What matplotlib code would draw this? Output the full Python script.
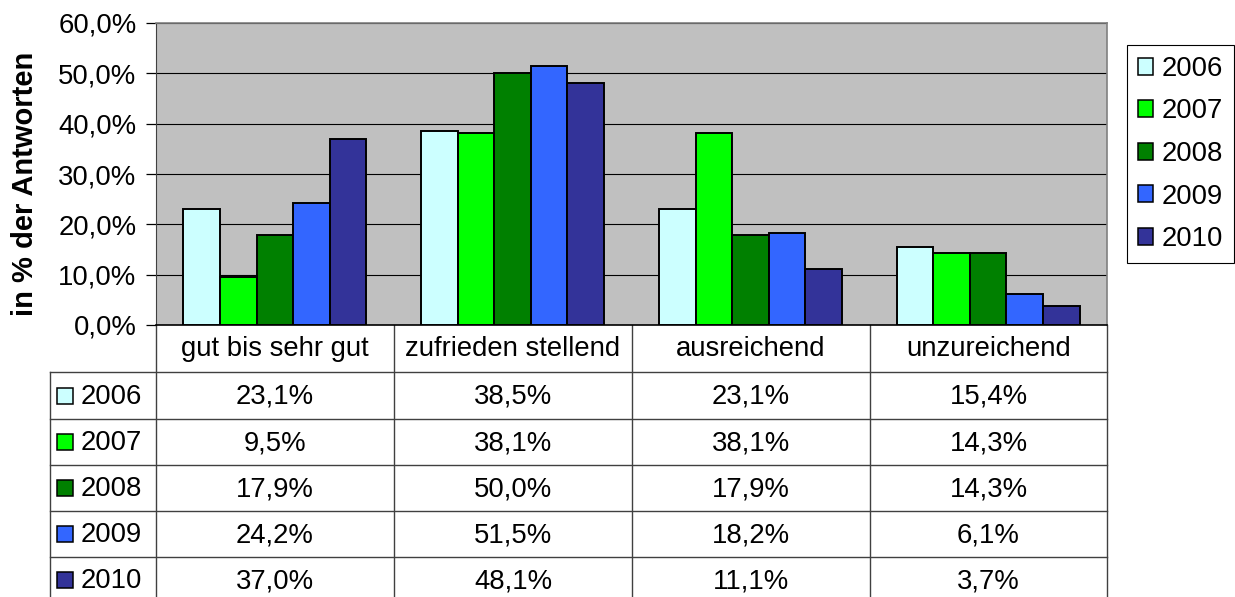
import matplotlib
matplotlib.use("Agg")
import matplotlib.pyplot as plt
from matplotlib.patches import Patch, Rectangle
import numpy as np

plt.rcParams['font.family'] = ['Liberation Sans', 'DejaVu Sans']

# daten
kategorien = ["gut bis sehr gut", "zufrieden stellend", "ausreichend", "unzureichend"]
jahre = ["2006", "2007", "2008", "2009", "2010"]
werte_2006 = [23.1, 38.5, 23.1, 15.4]
werte_2007 = [9.5, 38.1, 38.1, 14.3]
werte_2008 = [17.9, 50.0, 17.9, 14.3]
werte_2009 = [24.2, 51.5, 18.2, 6.1]
werte_2010 = [37.0, 48.1, 11.1, 3.7]
farben = ["#CCFFFF", "#00FF00", "#008000", "#3366FF", "#333399"]
y_ticks = [0, 10, 20, 30, 40, 50, 60]

serien = [werte_2006, werte_2007, werte_2008, werte_2009, werte_2010]

W, H = 1235, 597
def fx(px):
    return px / W
def fy(py):
    return 1 - py / H

fs = 19.8

fig = plt.figure(figsize=(W / 100, H / 100), dpi=100)

# diagrammflaeche
ax = fig.add_axes([fx(156), fy(325), fx(1107) - fx(156), fy(23) - fy(325)])
ax.set_facecolor("#C0C0C0")

n = len(serien)
breite = 1 / (n + 1.5)
x = np.arange(len(kategorien))
for i, (werte, farbe) in enumerate(zip(serien, farben)):
    ax.bar(x + (i - (n - 1) / 2) * breite, werte, width=breite, color=farbe,
           edgecolor="black", linewidth=1.4, zorder=3)

ax.set_xlim(-0.5, len(kategorien) - 0.5)
ax.set_ylim(0, 60)
ax.set_yticks(y_ticks)
ax.set_yticklabels([f"{t:.1f}".replace(".", ",") + "%" for t in y_ticks], fontsize=fs)
ax.set_xticks([])
ax.tick_params(axis="y", length=7, width=0.9, pad=7)
ax.grid(axis="y", color="black", linewidth=0.8, zorder=1)
ax.set_axisbelow(True)
for s in ["top", "right"]:
    ax.spines[s].set_color("#808080")
    ax.spines[s].set_linewidth(1.2)
ax.spines["left"].set_color("#404040")
ax.spines["bottom"].set_color("black")
ax.spines["bottom"].set_linewidth(1.2)

fig.text(fx(25), fy(184), "in % der Antworten", rotation=90, ha="center", va="center",
         fontsize=21, fontweight="bold")

# datentabelle
ov = fig.add_axes([0, 0, 1, 1], zorder=-1)
ov.set_xlim(0, W)
ov.set_ylim(H, 0)
ov.axis("off")

spalten = [156, 394, 632, 870, 1107]
zeilen = [372, 419, 465, 511, 557, 603]
lc = "#404040"
for sx in spalten:
    ov.plot([sx, sx], [325, 603], color=lc, lw=1.0)
ov.plot([50, 50], [372, 603], color=lc, lw=1.0)
for zy in zeilen:
    ov.plot([50, 1107], [zy, zy], color=lc, lw=1.0)

for j, kat in enumerate(kategorien):
    ov.text((spalten[j] + spalten[j + 1]) / 2, 349, kat, ha="center", va="center", fontsize=fs)

for i, (jahr, werte, farbe) in enumerate(zip(jahre, serien, farben)):
    ym = (zeilen[i] + zeilen[i + 1]) / 2
    ov.add_patch(Rectangle((57, ym - 8), 16, 16, facecolor=farbe, edgecolor="black", lw=1.1))
    ov.text(81, ym + 1, jahr, ha="left", va="center", fontsize=fs)
    for j, v in enumerate(werte):
        ov.text((spalten[j] + spalten[j + 1]) / 2, ym + 1, f"{v:.1f}".replace(".", ",") + "%",
                ha="center", va="center", fontsize=fs)

# legende
handles = [Patch(facecolor=c, edgecolor="black", linewidth=1.1) for c in farben]
leg = fig.legend(handles, jahre, loc="upper left", bbox_to_anchor=(fx(1127), fy(45)),
                 bbox_transform=fig.transFigure, borderaxespad=0, frameon=True, fancybox=False,
                 edgecolor="black", fontsize=fs, handlelength=0.55, handleheight=0.55,
                 handletextpad=0.3, labelspacing=0.6, borderpad=0.4, framealpha=1)
leg.get_frame().set_linewidth(0.8)

fig.savefig("out.png", dpi=100)
